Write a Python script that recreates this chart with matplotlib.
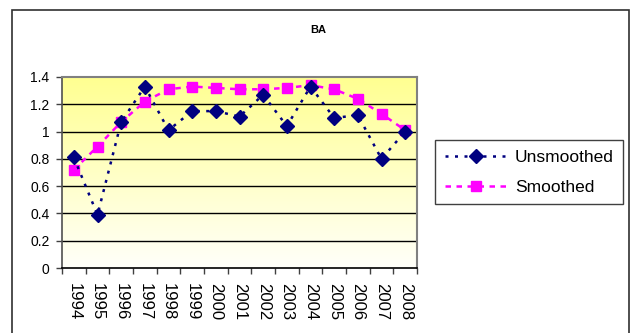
import numpy as np
import matplotlib
matplotlib.use("Agg")
import matplotlib.pyplot as plt
from matplotlib.patches import Rectangle
from matplotlib.ticker import FixedLocator, FuncFormatter

plt.rcParams['font.family'] = ['Liberation Sans', 'DejaVu Sans']

years = ['1994', '1995', '1996', '1997', '1998', '1999', '2000', '2001',
         '2002', '2003', '2004', '2005', '2006', '2007', '2008']
unsmoothed = [0.81, 0.39, 1.07, 1.33, 1.01, 1.15, 1.15, 1.11,
              1.27, 1.04, 1.33, 1.10, 1.12, 0.80, 1.00]
smoothed = [0.72, 0.89, 1.07, 1.22, 1.31, 1.33, 1.32, 1.31,
            1.31, 1.32, 1.34, 1.31, 1.24, 1.13, 1.01]
title = 'BA'

W, H = 630, 333
fig = plt.figure(figsize=(W / 100, H / 100), dpi=100)
fig.patch.set_facecolor('white')

# outer chart border
fig.patches.append(Rectangle((12 / W, -0.1), (629 - 12) / W, 1.1 - 10 / H,
                             transform=fig.transFigure, fill=False,
                             edgecolor='#303030', linewidth=1.2, zorder=0))

ax = fig.add_axes([62 / W, 1 - 268 / H, (417 - 62) / W, (268 - 77) / H])

n = len(years)
x = np.arange(n)
ax.set_xlim(-0.5, n - 0.5)
ax.set_ylim(0, 1.4)

# yellow-to-white vertical gradient background
top = np.array([255, 255, 145]) / 255.0
bot = np.array([255, 255, 250]) / 255.0
t = np.linspace(0, 1, 256)[:, None]
grad = (top[None, :] * (1 - t) + bot[None, :] * t)[:, None, :]
ax.imshow(grad, extent=[-0.5, n - 0.5, 0, 1.4], aspect='auto',
          origin='upper', zorder=0)

# horizontal gridlines
for yv in np.arange(0.2, 1.41, 0.2)[:-1]:
    ax.axhline(yv, color='black', linewidth=1.0, zorder=1)

ax.plot(x, unsmoothed, color='#000080', linestyle=(0, (1.2, 2.6)),
        linewidth=1.8, marker='D', markersize=7, markeredgecolor='#000080',
        markerfacecolor='#000080', label='Unsmoothed', zorder=3)
ax.plot(x, smoothed, color='#FF00FF', linestyle=(0, (2.2, 2.2)),
        linewidth=1.8, marker='s', markersize=6.8, markeredgecolor='#FF00FF',
        markerfacecolor='#FF00FF', label='Smoothed', zorder=2)

for side in ['top', 'right']:
    ax.spines[side].set_color('#808080')
    ax.spines[side].set_linewidth(1.5)
ax.spines['left'].set_color('#505050')
ax.spines['left'].set_linewidth(1.2)
ax.spines['bottom'].set_color('black')
ax.spines['bottom'].set_linewidth(1.2)

ax.yaxis.set_major_locator(FixedLocator(np.round(np.arange(0, 1.41, 0.2), 1)))
ax.yaxis.set_major_formatter(FuncFormatter(lambda v, p: f'{v:g}'))
ax.tick_params(axis='y', direction='out', length=4, width=1, pad=5,
               labelsize=10, color='#404040')

# tick marks between categories, labels at category centers
ax.xaxis.set_major_locator(FixedLocator(np.arange(-0.5, n, 1.0)))
ax.xaxis.set_major_formatter(FuncFormatter(lambda v, p: ''))
ax.xaxis.set_minor_locator(FixedLocator(x))
ax.set_xticks(x, years, minor=True, rotation=270)
ax.tick_params(axis='x', which='major', direction='out', length=4, width=1,
               color='#404040')
ax.tick_params(axis='x', which='minor', length=0, pad=10.5, labelsize=12)

fig.text(318 / W, 1 - 30 / H, title, ha='center', va='center',
         fontsize=8, fontweight='bold')

leg = fig.legend(loc='upper left', bbox_to_anchor=(435 / W, 1 - 140 / H),
                 bbox_transform=fig.transFigure, borderaxespad=0,
                 fontsize=12.5, frameon=True, fancybox=False, shadow=False,
                 handlelength=3.6, handletextpad=0.45, labelspacing=0.85,
                 borderpad=0.55, numpoints=1)
leg.get_frame().set_edgecolor('#404040')
leg.get_frame().set_linewidth(1.0)
leg.get_frame().set_facecolor('white')
leg.get_frame().set_alpha(1)

fig.savefig('out.png', dpi=100)
